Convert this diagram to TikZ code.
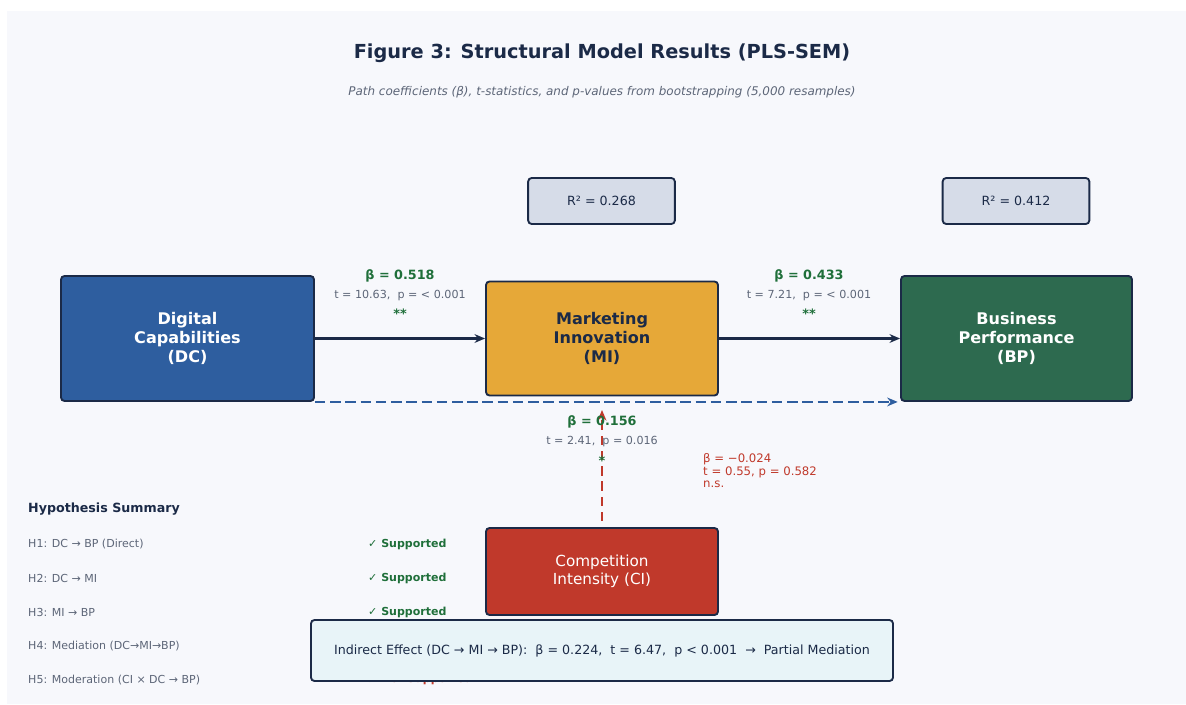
\documentclass[tikz,border=0pt]{standalone}
\usepackage{fontspec}
\setmainfont{DejaVu Sans}
\usepackage{tikz}
\usetikzlibrary{arrows.meta,
                positioning}
\definecolor{navy}{HTML}{1B2A47}
\definecolor{panel}{HTML}{F7F8FC}
\definecolor{dcblue}{HTML}{2E5E9F}
\definecolor{miorange}{HTML}{E6A838}
\definecolor{bpgreen}{HTML}{2D6A4F}
\definecolor{cired}{HTML}{C0392B}
\definecolor{rsqfill}{HTML}{D6DCE8}
\definecolor{notefill}{HTML}{E8F4F8}
\definecolor{siggreen}{HTML}{1F6F3A}
\definecolor{statgray}{HTML}{5D6678}
\tikzset{
        base/.style={draw=navy, line width=1.6pt, rounded corners=3pt, align=center},
        construct/.style={base, text=white, font=\fontsize{13.7}{15.9}\selectfont\bfseries},
        rsq/.style={base, fill=rsqfill, text=navy, minimum width=4.4cm,
                    minimum height=1.38cm, font=\fontsize{10.8}{13}\selectfont},
        coef/.style={inner sep=0pt, text=siggreen, font=\fontsize{10.9}{13}\selectfont\bfseries},
        stat/.style={inner sep=0pt, text=statgray, font=\fontsize{9.5}{11}\selectfont},
        sigstars/.style={inner sep=0pt, text=siggreen, font=\fontsize{11}{13}\selectfont\bfseries},
        hyp/.style={inner sep=0pt, anchor=west, text=statgray, font=\fontsize{9.4}{11}\selectfont},
        verdict/.style={inner sep=0pt, anchor=west, text=siggreen, font=\fontsize{9.4}{11}\selectfont\bfseries},
        myarrow/.style={-{Stealth[length=9pt, width=7.5pt]}, line width=2.4pt, navy},
}

\begin{document}
\begin{tikzpicture}[x=0.03cm, y=-0.03cm]
    \useasboundingbox (0,0) rectangle (1186,704);
    \fill[white] (0,0) rectangle (1186,704);
    \fill[panel] (7,11) rectangle (1186,704);

    % title
    \node[text=navy, font=\fontsize{16.5}{19}\selectfont\bfseries] (title) at (602,53)
        {Figure 3: Structural Model Results (PLS-SEM)};
    \node[text=statgray, font=\fontsize{10.2}{12}\selectfont\itshape] (subtitle) at (602,92)
        {Path coefficients (β), t-statistics, and p-values from bootstrapping (5,000 resamples)};

    % constructs
    \node[construct, fill=dcblue, minimum width=7.59cm, minimum height=3.75cm] (DC) at (187.5,338.5)
        {Digital\\Capabilities\\(DC)};
    \node[construct, fill=miorange, text=navy, minimum width=6.96cm, minimum height=3.42cm] (MI) at (602,338.5)
        {Marketing\\Innovation\\(MI)};
    \node[construct, fill=bpgreen, minimum width=6.93cm, minimum height=3.75cm] (BP) at (1016.5,338.5)
        {Business\\Performance\\(BP)};
    \node[construct, fill=cired, minimum width=6.96cm, minimum height=2.61cm,
          font=\fontsize{13}{15.7}\selectfont] (CI) at (602,571.5)
        {Competition\\Intensity (CI)};

    \node[rsq] (rsqMI) at (601.5,201) {R² = 0.268};
    \node[rsq] (rsqBP) at (1016,201) {R² = 0.412};

    % paths
    \draw[myarrow] (DC.east) -- (MI.west);
    \draw[myarrow] (MI.east) -- (BP.west);
    \draw[myarrow, dcblue, line width=2.1pt, dash pattern=on 9pt off 4pt, shorten >=2pt]
        (DC.south east) -- (BP.south west);
    \coordinate (modTip) at (602,410);
    \draw[myarrow, cired, line width=2.1pt, dash pattern=on 8pt off 5pt, shorten <=5pt] (CI.north) -- (modTip);

    \node[coef] (b1) at (400,276) {β = 0.518};
    \node[stat, below=6pt of b1] (t1) {t = 10.63,\ \ p = < 0.001};
    \node[sigstars] (s1) at (400,314) {**};

    \node[coef] (b2) at (809,276) {β = 0.433};
    \node[stat, below=6pt of b2] (t2) {t = 7.21,\ \ p = < 0.001};
    \node[sigstars] (s2) at (809,314) {**};

    \node[coef] (b3) at (602,422) {β = 0.156};
    \node[stat, below=6pt of b3] (t3) {t = 2.41,\ \ p = 0.016};
    \node[sigstars] (s3) at (602,461) {*};

    \node[inner sep=0pt, anchor=north west, align=left, text=cired,
          font=\fontsize{10}{11}\selectfont] (modLabel) at (703,453)
        {β = −0.024\\t = 0.55, p = 0.582\\n.s.};

    % hypotheses
    \node[inner sep=0pt, anchor=west, text=navy, font=\fontsize{10.8}{13}\selectfont\bfseries]
        (hypTitle) at (28,509) {Hypothesis Summary};
    \node[hyp] (h1) at (28,544) {H1: DC → BP (Direct)};
    \node[hyp] (h2) at (28,578) {H2: DC → MI};
    \node[hyp] (h3) at (28,612) {H3: MI → BP};
    \node[hyp] (h4) at (28,646) {H4: Mediation (DC→MI→BP)};
    \node[hyp] (h5) at (28,680) {H5: Moderation (CI × DC → BP)};
    \node[verdict] (v1) at (368,544) {✓ Supported};
    \node[verdict] (v2) at (368,578) {✓ Supported};
    \node[verdict] (v3) at (368,612) {✓ Supported};
    \node[verdict, text=cired] (v5) at (368,679) {✗ Not Supported};

    % indirect effect
    \node[base, fill=notefill, text=navy, minimum width=17.46cm, minimum height=1.83cm,
          font=\fontsize{10.8}{13}\selectfont] (indirect) at (602,650.5)
        {Indirect Effect (DC → MI → BP):\ \ β = 0.224,\ \ t = 6.47,\ \ p < 0.001\ \ →\ \ Partial Mediation};
\end{tikzpicture}
\end{document}
